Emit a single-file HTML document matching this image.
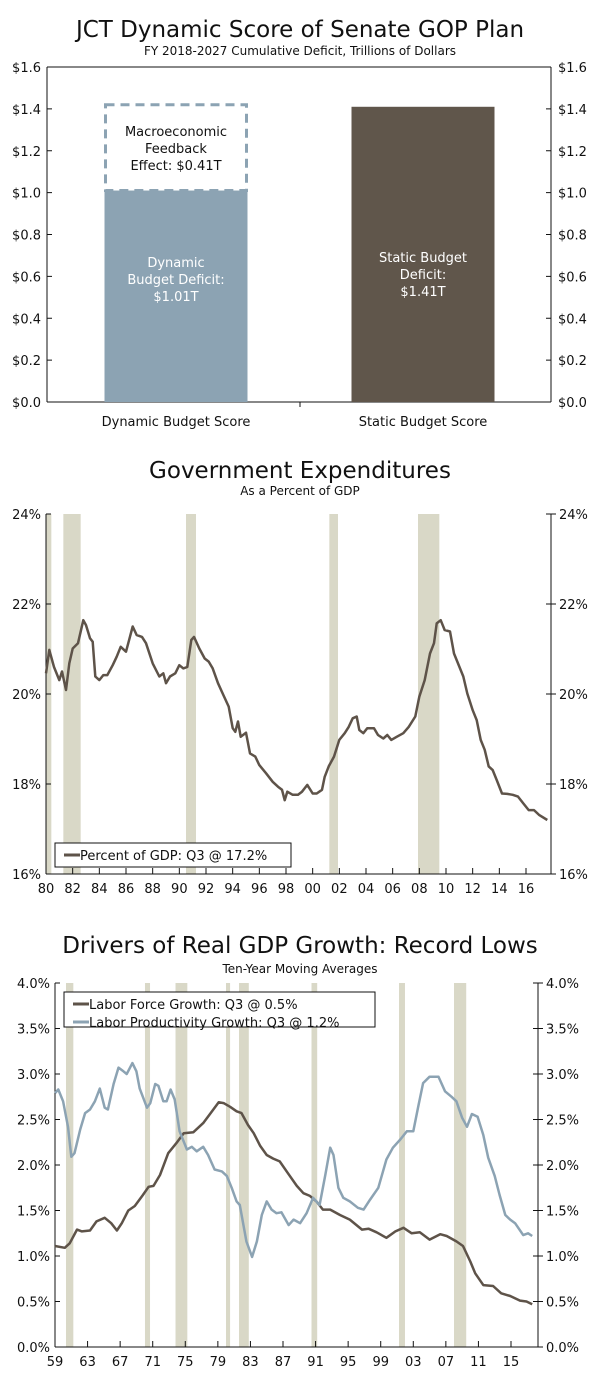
<!DOCTYPE html>
<html><head><meta charset="utf-8"><style>
html,body{margin:0;padding:0;background:#fff;}
svg{display:block;font-family:"DejaVu Sans","Liberation Sans",sans-serif;}
</style></head><body>
<svg id="root" width="600" height="1376" viewBox="0 0 600 1376"></svg>
<script>
// ===== Chart 1 data =====
const barCategories = ["Dynamic Budget Score","Static Budget Score"];
const barValues = [1.01, 1.41];
const feedbackValue = 0.41;
const c1Ticks = [0,0.2,0.4,0.6,0.8,1.0,1.2,1.4,1.6];
// ===== Chart 2 data =====
const gdpYears = [1980.0,1980.25,1980.6,1981.0,1981.2,1981.5,1981.75,1982.0,1982.4,1982.8,1983.0,1983.3,1983.5,1983.7,1984.0,1984.3,1984.6,1985.0,1985.3,1985.6,1986.0,1986.5,1986.8,1987.2,1987.5,1988.0,1988.5,1988.8,1989.0,1989.3,1989.7,1990.0,1990.3,1990.6,1990.9,1991.1,1991.5,1991.9,1992.2,1992.5,1992.9,1993.3,1993.7,1994.0,1994.2,1994.4,1994.6,1995.0,1995.3,1995.7,1996.0,1996.5,1997.0,1997.4,1997.7,1997.9,1998.1,1998.5,1998.9,1999.2,1999.6,2000.0,2000.3,2000.7,2000.9,2001.2,2001.6,2002.0,2002.4,2002.7,2003.0,2003.3,2003.5,2003.8,2004.1,2004.6,2004.9,2005.3,2005.6,2005.9,2006.3,2006.8,2007.2,2007.7,2008.0,2008.4,2008.8,2009.1,2009.3,2009.6,2009.9,2010.3,2010.6,2010.9,2011.3,2011.6,2012.0,2012.3,2012.6,2012.9,2013.2,2013.5,2013.8,2014.2,2014.6,2015.0,2015.4,2015.8,2016.2,2016.6,2017.0,2017.6];
const gdpValues = [20.46,20.98,20.6,20.31,20.5,20.09,20.68,21.01,21.13,21.64,21.53,21.24,21.16,20.39,20.31,20.42,20.42,20.64,20.83,21.05,20.94,21.5,21.31,21.27,21.13,20.68,20.39,20.46,20.24,20.39,20.46,20.64,20.57,20.6,21.2,21.27,21.01,20.79,20.72,20.57,20.24,19.98,19.72,19.24,19.16,19.39,19.05,19.14,18.68,18.61,18.42,18.24,18.05,17.94,17.87,17.64,17.83,17.76,17.76,17.83,17.98,17.79,17.79,17.87,18.16,18.39,18.61,18.98,19.13,19.27,19.46,19.5,19.2,19.13,19.24,19.24,19.09,19.01,19.09,18.98,19.05,19.13,19.27,19.5,19.94,20.31,20.9,21.13,21.57,21.64,21.42,21.39,20.9,20.68,20.39,20.01,19.64,19.42,18.98,18.76,18.39,18.31,18.09,17.79,17.78,17.76,17.72,17.57,17.42,17.42,17.31,17.2];
const c2Recessions = [[1980.0,1980.4],[1981.3,1982.6],[1990.5,1991.25],[2001.25,2001.9],[2007.9,2009.5]];
const c2YTicks = [16,18,20,22,24];
const c2XTicks = [1980,1982,1984,1986,1988,1990,1992,1994,1996,1998,2000,2002,2004,2006,2008,2010,2012,2014,2016];
// ===== Chart 3 data =====
const lfYears = [1959,1960.2,1960.8,1961.7,1962.3,1963.3,1964.1,1965.1,1965.9,1966.6,1967.2,1968.0,1968.8,1969.8,1970.5,1971.1,1971.9,1972.9,1973.9,1974.8,1976.0,1977.2,1978.2,1979.1,1979.7,1980.5,1981.3,1981.9,1982.7,1983.4,1984.2,1985.0,1985.8,1986.6,1987.6,1988.7,1989.5,1990.3,1991.1,1991.9,1992.8,1994.0,1995.2,1996.7,1997.5,1998.5,1999.7,2000.8,2001.8,2002.8,2003.8,2005.0,2006.3,2007.1,2008.3,2009.1,2010.0,2010.6,2011.6,2012.8,2013.8,2014.9,2016.1,2016.9,2017.6];
const lfValues = [1.11,1.09,1.14,1.29,1.27,1.28,1.38,1.42,1.36,1.28,1.36,1.5,1.55,1.67,1.76,1.77,1.89,2.13,2.24,2.35,2.36,2.46,2.58,2.69,2.68,2.64,2.59,2.57,2.44,2.35,2.21,2.11,2.07,2.04,1.91,1.77,1.69,1.66,1.6,1.51,1.51,1.45,1.4,1.29,1.3,1.26,1.2,1.27,1.31,1.25,1.26,1.18,1.24,1.22,1.16,1.11,0.94,0.81,0.68,0.67,0.59,0.56,0.51,0.5,0.47];
const lpYears = [1959,1959.4,1960,1960.6,1961,1961.4,1962.1,1962.7,1963.3,1963.9,1964.5,1965.1,1965.5,1966.2,1966.8,1967.4,1967.8,1968.5,1969,1969.4,1970.3,1970.7,1971.3,1971.7,1972.3,1972.7,1973.2,1973.7,1974.3,1975.2,1975.8,1976.4,1977.2,1977.8,1978.6,1979.5,1980.1,1980.7,1981.3,1981.7,1982.5,1983.2,1983.8,1984.4,1985,1985.6,1986.2,1986.8,1987.7,1988.3,1988.7,1989.1,1989.9,1990.7,1991.5,1992.2,1992.8,1993.2,1993.8,1994.4,1995.2,1996.2,1996.9,1997.7,1998.7,1999.7,2000.5,2001.4,2002.2,2003,2003.6,2004.2,2005,2006.1,2006.9,2007.7,2008.3,2009,2009.6,2010.2,2010.9,2011.6,2012.2,2013,2013.6,2014.3,2014.9,2015.5,2016.5,2017.1,2017.6];
const lpValues = [2.79,2.83,2.7,2.42,2.09,2.13,2.39,2.57,2.61,2.7,2.84,2.63,2.61,2.89,3.07,3.03,3.0,3.12,3.03,2.84,2.63,2.68,2.89,2.87,2.7,2.7,2.83,2.72,2.37,2.17,2.2,2.15,2.2,2.11,1.95,1.93,1.88,1.75,1.6,1.56,1.16,0.99,1.16,1.45,1.6,1.51,1.47,1.48,1.34,1.4,1.38,1.36,1.47,1.64,1.56,1.89,2.19,2.11,1.75,1.64,1.6,1.53,1.51,1.62,1.75,2.06,2.19,2.28,2.37,2.37,2.64,2.9,2.97,2.97,2.81,2.75,2.7,2.52,2.42,2.56,2.53,2.33,2.08,1.88,1.67,1.45,1.4,1.36,1.23,1.25,1.22];
const c3Recessions = [[1960.35,1961.25],[1970.05,1970.67],[1973.8,1975.25],[1980.0,1980.5],[1981.6,1982.8],[1990.5,1991.2],[2001.25,2001.98],[2008.0,2009.5]];
const c3YTicks = [0,0.5,1.0,1.5,2.0,2.5,3.0,3.5,4.0];
const c3XTicks = [1959,1963,1967,1971,1975,1979,1983,1987,1991,1995,1999,2003,2007,2011,2015];

const NS="http://www.w3.org/2000/svg";
const root=document.getElementById('root');
function mk(tag,attrs,parent,text){const e=document.createElementNS(NS,tag);for(const k in attrs)e.setAttribute(k,attrs[k]);if(text!==undefined)e.textContent=text;(parent||root).appendChild(e);return e;}
const DARK="#5e5349", BLUE="#8ca3b3", SHADE="#d9d8c7", INK="#111";

function title(y1,t,y2,s,name){
  const a=mk('text',{x:300,y:y1,'text-anchor':'middle','font-size':23,fill:INK});a.textContent=t;
  
  
  const b=mk('text',{x:300,y:y2,'text-anchor':'middle','font-size':12,fill:INK});b.textContent=s;
  
  
}

// ===== Chart 1 =====
title(37,"JCT Dynamic Score of Senate GOP Plan",55,"FY 2018-2027  Cumulative Deficit, Trillions of Dollars","chart1");
(function(){
  const L=47,R=551,T=67,B=402;
  const y=v=>B-(v/1.6)*(B-T);
  const g=mk('g',{});
  
  
  mk('line',{x1:L,y1:T,x2:L,y2:B,stroke:INK},g);
  mk('line',{x1:R,y1:T,x2:R,y2:B,stroke:INK},g);
  mk('line',{x1:L,y1:B,x2:R,y2:B,stroke:INK},g);
  mk('line',{x1:L,y1:T,x2:R,y2:T,stroke:INK},g);
  mk('line',{x1:300,y1:B,x2:300,y2:B+5,stroke:INK},g);
  c1Ticks.forEach(v=>{
    mk('line',{x1:L,y1:y(v),x2:L+5,y2:y(v),stroke:INK},g);
    mk('line',{x1:R-5,y1:y(v),x2:R,y2:y(v),stroke:INK},g);
    const t1=mk('text',{x:L-6,y:y(v)+5,'text-anchor':'end','font-size':13,fill:INK},g,'$'+v.toFixed(1));
    
    
    const t2=mk('text',{x:R+7,y:y(v)+5,'font-size':13,fill:INK},g,'$'+v.toFixed(1));
    
    
  });
  const bw=143, cx=[176,423];
  barCategories.forEach((c,i)=>{
    const r=mk('rect',{x:cx[i]-bw/2,y:y(barValues[i]),width:bw,height:B-y(barValues[i]),fill:i?"#60564b":BLUE},g);
    
    
    const t=mk('text',{x:cx[i],y:B+24,'text-anchor':'middle','font-size':13,fill:INK},g,c);
    
    
  });
  const top=barValues[0]+feedbackValue;
  const d=mk('rect',{x:cx[0]-bw/2+1,y:y(top),width:bw-2,height:y(barValues[0])-y(top),fill:'none',stroke:BLUE,'stroke-width':3,'stroke-dasharray':'9,6'},g);
  
  
  const lines=[["Macroeconomic",136],["Feedback",153],["Effect:  $0.41T",170]];
  lines.forEach(l=>{const t=mk('text',{x:cx[0],y:l[1],'text-anchor':'middle','font-size':13,fill:INK},g,l[0]);
    
    });
  [["Dynamic",267],["Budget Deficit:",284],["$1.01T",301]].forEach(l=>{const t=mk('text',{x:cx[0],y:l[1],'text-anchor':'middle','font-size':13,fill:'#fff'},g,l[0]);
    
    });
  [["Static Budget",262],["Deficit:",279],["$1.41T",296]].forEach(l=>{const t=mk('text',{x:cx[1],y:l[1],'text-anchor':'middle','font-size':13,fill:'#fff'},g,l[0]);
    
    });
})();

function lineChart(o){
  const g=mk('g',{});
  
  
  const x=v=>o.L+(v-o.x0)*(o.R-o.L)/(o.x1-o.x0);
  const y=v=>o.B-(v-o.y0)*(o.B-o.T)/(o.y1-o.y0);
  o.rec.forEach(r=>{const e=mk('rect',{x:x(r[0]),y:o.T,width:x(r[1])-x(r[0]),height:o.B-o.T,fill:SHADE},g);
    
    });
  mk('line',{x1:o.L,y1:o.T,x2:o.L,y2:o.B,stroke:INK},g);
  mk('line',{x1:o.RA,y1:o.T,x2:o.RA,y2:o.B,stroke:INK},g);
  mk('line',{x1:o.L,y1:o.B,x2:o.RA,y2:o.B,stroke:INK},g);
  o.yt.forEach(v=>{
    mk('line',{x1:o.L,y1:y(v),x2:o.L+5,y2:y(v),stroke:INK},g);
    mk('line',{x1:o.RA-5,y1:y(v),x2:o.RA+5,y2:y(v),stroke:INK},g);
    const lab=o.fy(v);
    const a=mk('text',{x:o.L-5,y:y(v)+5,'text-anchor':'end','font-size':13,fill:INK},g,lab);
    
    
    const b=mk('text',{x:o.RA+8,y:y(v)+5,'font-size':13,fill:INK},g,lab);
    
    
  });
  o.xt.forEach(v=>{
    mk('line',{x1:x(v),y1:o.B,x2:x(v),y2:o.B-6,stroke:INK},g);
    const t=mk('text',{x:x(v),y:o.B+19,'text-anchor':'middle','font-size':13,fill:INK},g,String(v%100).padStart(2,'0'));
    
    
  });
  o.series.forEach(s=>{
    const p=mk('path',{d:s.xs.map((v,i)=>(i?'L':'M')+x(v).toFixed(1)+','+y(s.ys[i]).toFixed(1)).join(''),fill:'none',stroke:s.c,'stroke-width':2.5,'stroke-linejoin':'round'},g);
    
    
  });
  const lg=mk('g',{},g);
  
  
  mk('rect',{x:o.lg[0],y:o.lg[1],width:o.lg[2],height:o.lg[3],fill:'#fff',stroke:INK},lg);
  o.series.forEach((s,i)=>{
    const yy=o.lg[1]+12+i*18;
    mk('line',{x1:o.lg[0]+9,y1:yy,x2:o.lg[0]+25,y2:yy,stroke:s.c,'stroke-width':3},lg);
    const t=mk('text',{x:o.lg[0]+25,y:yy+5,'font-size':13,fill:INK},lg,s.label);
    
    
  });
}

// ===== Chart 2 =====
title(478,"Government Expenditures",495,"As a Percent of GDP","chart2");
lineChart({name:'gov-expenditures-chart',L:46,R:526,RA:551,T:514,B:874,x0:1980,x1:2016,y0:16,y1:24,
  rec:c2Recessions,yt:c2YTicks,xt:c2XTicks,fy:v=>v+'%',lg:[55,843,236,24],
  series:[{name:'percent-of-gdp-line',xs:gdpYears,ys:gdpValues,c:DARK,label:'Percent of GDP: Q3 @ 17.2%'}]});

// ===== Chart 3 =====
title(953,"Drivers of Real GDP Growth: Record Lows",973,"Ten-Year Moving Averages","chart3");
lineChart({name:'gdp-drivers-chart',L:55,R:511,RA:538,T:983,B:1347,x0:1959,x1:2015,y0:0,y1:4,
  rec:c3Recessions,yt:c3YTicks,xt:c3XTicks,fy:v=>v.toFixed(1)+'%',lg:[64,992,311,35],
  series:[{name:'labor-force-growth-line',xs:lfYears,ys:lfValues,c:DARK,label:'Labor Force Growth: Q3 @ 0.5%'},
          {name:'labor-productivity-growth-line',xs:lpYears,ys:lpValues,c:BLUE,label:'Labor Productivity Growth: Q3 @ 1.2%'}]});
</script>
</body></html>
